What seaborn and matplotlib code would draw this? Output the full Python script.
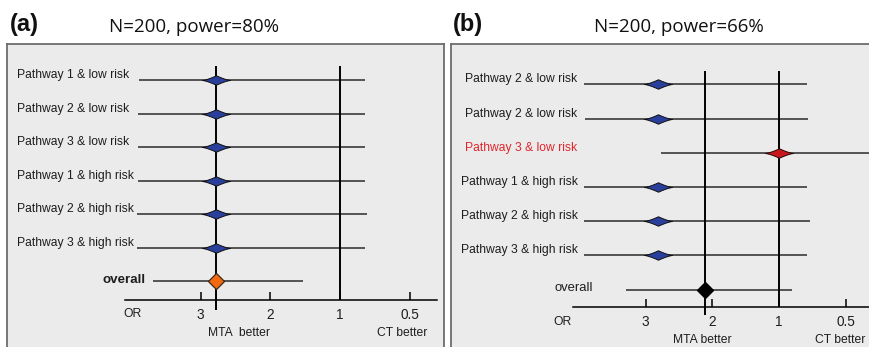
import numpy as np
import pandas as pd
import matplotlib
matplotlib.use("Agg")
import matplotlib.pyplot as plt
from matplotlib.path import Path
import seaborn as sns

# ---------------------------------------------------------------- data
# panel (a): N=200, power=80%
a_labels = ["Pathway 1 & low risk", "Pathway 2 & low risk", "Pathway 3 & low risk",
            "Pathway 1 & high risk", "Pathway 2 & high risk", "Pathway 3 & high risk",
            "overall"]
a_or = [2.78, 2.78, 2.78, 2.78, 2.78, 2.78, 2.78]
a_lo = [3.89, 3.90, 3.90, 3.90, 3.92, 3.91, 3.68]
a_hi = [0.82, 0.82, 0.82, 0.82, 0.81, 0.82, 1.53]
a_kind = ["subgroup"] * 6 + ["overall"]

# panel (b): N=200, power=66%
b_labels = ["Pathway 2 & low risk", "Pathway 2 & low risk", "Pathway 3 & low risk",
            "Pathway 1 & high risk", "Pathway 2 & high risk", "Pathway 3 & high risk",
            "overall"]
b_or = [2.81, 2.81, 1.00, 2.81, 2.81, 2.81, 2.11]
b_lo = [3.93, 3.91, 2.77, 3.93, 3.93, 3.93, 3.30]
b_hi = [0.79, 0.785, 0.15, 0.79, 0.767, 0.79, 0.90]
b_kind = ["subgroup", "subgroup", "flagged", "subgroup", "subgroup", "subgroup", "overall"]

tick_values = [3, 2, 1, 0.5]
tick_labels = ["3", "2", "1", "0.5"]
null_or = 1.0

# ---------------------------------------------------------------- OR axis
# evenly spaced ticks 4, 3, 2, 1, 0.5 -> piecewise-linear position scale
OR_KNOTS = np.array([0.5, 1.0, 2.0, 3.0, 4.0])
POS_KNOTS = np.array([4.0, 3.0, 2.0, 1.0, 0.0])


def or_to_pos(v):
    v = np.asarray(v, dtype=float)
    p = np.interp(v, OR_KNOTS, POS_KNOTS)
    p = np.where(v > 4, 4 - v, p)
    p = np.where(v < 0.5, 4 + (0.5 - v) * 2, p)
    return p


def pos_to_or(p):
    p = np.asarray(p, dtype=float)
    v = np.interp(p, POS_KNOTS[::-1], OR_KNOTS[::-1])
    v = np.where(p < 0, 4 - p, v)
    v = np.where(p > 4, 0.5 - (p - 4) / 2, v)
    return v


# monotonically increasing pair for the scale; the axis itself is inverted
def scale_fwd(v):
    return -or_to_pos(v)


def scale_inv(q):
    return pos_to_or(-np.asarray(q, dtype=float))


# ---------------------------------------------------------------- markers
def lens_path(h=0.34, k=1.35, n=25):
    xs = np.linspace(-1, 1, n)
    top = h * (1 - np.abs(xs)) ** k
    verts = list(zip(xs, top)) + list(zip(xs[::-1][1:], -top[::-1][1:]))
    verts.append(verts[0])
    codes = [Path.MOVETO] + [Path.LINETO] * (len(verts) - 2) + [Path.CLOSEPOLY]
    return Path(verts, codes)


DIAMOND = Path([(-1, 0), (0, 1), (1, 0), (0, -1), (-1, 0)],
               [Path.MOVETO, Path.LINETO, Path.LINETO, Path.LINETO, Path.CLOSEPOLY])
LENS = lens_path()

# ---------------------------------------------------------------- figure
W, H = 870, 347
sns.set_style("white")
plt.rcParams["font.family"] = ["Liberation Sans", "DejaVu Sans"]
fig = plt.figure(figsize=(W / 100, H / 100), dpi=100)

TEXT = "#1e1e1e"
FRAME = "#6c6c6c"
PANEL_BG = "#ebebeb"


def draw_panel(df, lay, styles):
    l, t, r, b = lay["rect"]
    ax = fig.add_axes([l / W, 1 - b / H, (r - l) / W, (b - t) / H])
    ax.set_facecolor(PANEL_BG)
    ax.set_xscale("function", functions=(scale_fwd, scale_inv))

    def row_of(px):
        return (px - lay["row0"]) / lay["row_step"]

    def or_of(px):
        return float(pos_to_or((px - lay["x3"]) / lay["x_step"] + 1))

    df = df.copy()
    df["row"] = np.arange(len(df))

    # confidence intervals
    ax.hlines(df["row"], df["lo"], df["hi"], color="#2a2a2a", lw=1.1, zorder=2)

    # reference lines: no effect and pooled estimate
    ax.vlines(null_or, row_of(lay["vtop"]), row_of(lay["axis"]), color="black", lw=1.4, zorder=3)
    pooled = df.loc[df["kind"] == "overall", "or"].iloc[0]
    ax.vlines(pooled, row_of(lay["vtop"]), row_of(lay["est_bottom"]), color="black", lw=1.4, zorder=3)

    # point estimates
    for kind, sub in df.groupby("kind"):
        st = styles[kind]
        sns.scatterplot(data=sub, x="or", y="row", marker=st["marker"], s=st["s"],
                        color=st["color"], edgecolor=st["edge"], linewidth=st["lw"],
                        legend=False, zorder=5, ax=ax)

    # row labels
    for _, rw in df.iterrows():
        if rw["kind"] == "overall":
            ax.text((lay["overall_x"] - l) / (r - l), rw["row"] - 0.03, rw["label"],
                    transform=ax.get_yaxis_transform(), ha="right", va="center",
                    fontsize=lay["overall_size"], color=TEXT, fontweight=lay["overall_weight"])
        else:
            ax.text((lay["label_x"] - l) / (r - l), rw["row"] - 5 / lay["row_step"], rw["label"],
                    transform=ax.get_yaxis_transform(), ha=lay["label_ha"], va="center",
                    fontsize=8.7, color=styles[rw["kind"]]["label_color"])

    # axis limits (larger OR on the left)
    ax.set_xlim(or_of(l), or_of(r))
    ax.set_ylim(row_of(b), row_of(t))

    # OR axis drawn on the bottom spine
    for side in ["left", "top", "right"]:
        ax.spines[side].set_color(FRAME)
        ax.spines[side].set_linewidth(1.3)
    sp = ax.spines["bottom"]
    sp.set_position(("data", row_of(lay["axis"])))
    sp.set_bounds(or_of(lay["axis_from"]), or_of(lay["axis_to"]))
    sp.set_color("black")
    sp.set_linewidth(1.1)
    ax.set_xticks(tick_values)
    ax.set_xticklabels(tick_labels)
    ax.xaxis.set_minor_locator(matplotlib.ticker.NullLocator())
    ax.tick_params(axis="x", direction="in", length=6, width=1.1, color="black",
                   pad=5.5, labelsize=9.8, labelcolor=TEXT, bottom=True)
    ax.set_yticks([])
    ax.set_xlabel("")
    ax.set_ylabel("")

    ax.text(or_of(lay["or_x"]), row_of(lay["ticklabel"]), "OR", ha="center", va="center",
            fontsize=8.7, color=TEXT)
    ax.text(or_of(lay["mta_x"]), row_of(lay["better"]), lay["mta_text"], ha="center",
            va="center", fontsize=8.7, color=TEXT)
    ax.text(or_of(lay["ct_x"]), row_of(lay["better"]), "CT better", ha="center",
            va="center", fontsize=8.7, color=TEXT)
    return ax


styles_a = {
    "subgroup": dict(marker=LENS, s=400, color="#2a3e9c", edge="#111111", lw=0.7, label_color=TEXT),
    "overall": dict(marker=DIAMOND, s=135, color="#f2690f", edge="#3a2a1a", lw=0.9, label_color=TEXT),
}
styles_b = {
    "subgroup": dict(marker=LENS, s=400, color="#2a3e9c", edge="#111111", lw=0.7, label_color=TEXT),
    "flagged": dict(marker=LENS, s=400, color="#c8161d", edge="#2a0a0a", lw=0.7, label_color="#e0262c"),
    "overall": dict(marker=DIAMOND, s=135, color="black", edge="black", lw=0.9, label_color=TEXT),
}

layout_a = dict(rect=(7, 44, 444, 362), row0=80, row_step=33.5, x3=200.7, x_step=69.7,
                axis=300, vtop=66, est_bottom=310, ticklabel=314, better=333,
                axis_from=125, axis_to=437, or_x=132, mta_x=239, ct_x=402, mta_text="MTA  better",
                label_x=17, label_ha="left", overall_x=146, overall_weight="bold", overall_size=9.6)
layout_b = dict(rect=(451, 44, 905, 362), row0=84.3, row_step=34.2, x3=645.7, x_step=66.6,
                axis=307, vtop=70.7, est_bottom=315, ticklabel=321.5, better=340,
                axis_from=573, axis_to=905, or_x=563, mta_x=702, ct_x=840, mta_text="MTA better",
                label_x=577.5, label_ha="right", overall_x=593, overall_weight="normal",
                overall_size=9.4)

df_a = pd.DataFrame({"label": a_labels, "or": a_or, "lo": a_lo, "hi": a_hi, "kind": a_kind})
df_b = pd.DataFrame({"label": b_labels, "or": b_or, "lo": b_lo, "hi": b_hi, "kind": b_kind})

draw_panel(df_a, layout_a, styles_a)
draw_panel(df_b, layout_b, styles_b)

# panel letters and titles
fig.text(10 / W, 1 - 24 / H, "(a)", fontsize=17, fontweight="bold", color="#111111",
         ha="left", va="center")
fig.text(453 / W, 1 - 24 / H, "(b)", fontsize=17, fontweight="bold", color="#111111",
         ha="left", va="center")
fig.text(194.5 / W, 1 - 27 / H, "N=200, power=80%", fontsize=13.5, family=["Open Sans", "DejaVu Sans"],
         color="#111111", ha="center", va="center")
fig.text(679 / W, 1 - 27 / H, "N=200, power=66%", fontsize=13.5, family=["Open Sans", "DejaVu Sans"],
         color="#111111", ha="center", va="center")

fig.savefig("out.png", dpi=100, facecolor="white")
